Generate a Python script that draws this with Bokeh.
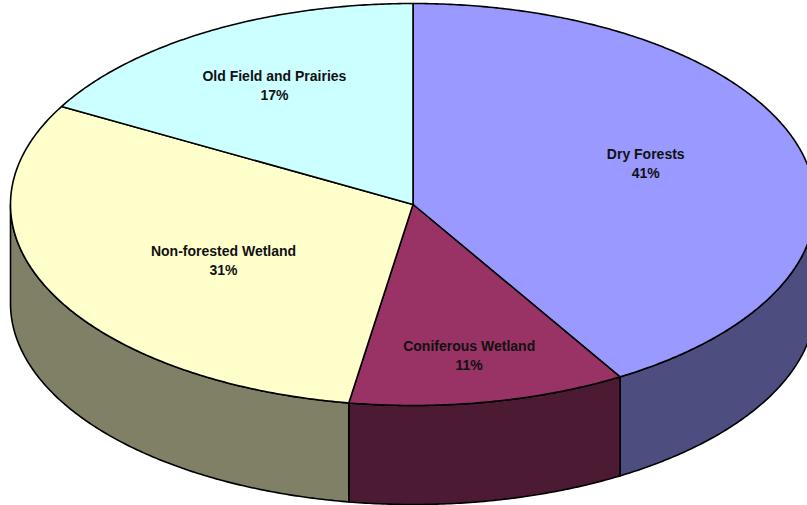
import numpy as np
from bokeh.plotting import figure
from bokeh.core.properties import value
from bokeh.embed import file_html
from bokeh.resources import INLINE

categories = ["Dry Forests", "Coniferous Wetland", "Non-forested Wetland", "Old Field and Prairies"]
shares = [41.4, 11.15, 30.55, 16.9]
top_colors = ["#9999FF", "#993366", "#FFFFCC", "#CCFFFF"]
side_colors = ["#4D4D80", "#4D1A33", "#808066", "#668080"]

# Layout (style) constants, in pixels of the page
W, H = 807, 505
CX, CY, RX, RY, DEPTH = 412.5, 204.0, 402.5, 201.0, 99.0
LABEL_RADII = [(0.60, 0.765), (0.739, 0.765), (0.523, 0.638), (0.68, 0.684)]

p = figure(width=W, height=H, output_backend="svg", toolbar_location=None,
           x_range=(0, W), y_range=(H, 0), x_axis_type="linear", min_border=0,
           margin=(0, 0, 0, 0), outline_line_color=None,
           border_fill_color=None, background_fill_color=None)
p.axis.visible = False
p.grid.visible = False


def px(a):
    return CX + RX * np.sin(a)


def py(a):
    return CY - RY * np.cos(a)


def arc(a0, a1):
    return np.linspace(a0, a1, max(int(abs(a1 - a0) * 120), 2))


edges = np.cumsum([0] + shares) / sum(shares) * 2 * np.pi

# side walls: only the part of each slice on the near half of the rim
for i in range(len(shares)):
    a0, a1 = max(edges[i], np.pi / 2), min(edges[i + 1], 3 * np.pi / 2)
    if a1 <= a0:
        continue
    t = arc(a0, a1)
    xs = np.r_[px(t), px(t[::-1])]
    ys = np.r_[py(t), py(t[::-1]) + DEPTH]
    p.patch(xs, ys, fill_color=side_colors[i], line_color="black",
            line_width=1.6, line_join="round")

# top face
for i in range(len(shares)):
    t = arc(edges[i], edges[i + 1])
    p.patch(np.r_[CX, px(t)], np.r_[CY, py(t)], fill_color=top_colors[i],
            line_color="black", line_width=1.6, line_join="round")

# labels
for i, name in enumerate(categories):
    mid = (edges[i] + edges[i + 1]) / 2
    lx = CX + RX * LABEL_RADII[i][0] * np.sin(mid)
    ly = CY - RY * LABEL_RADII[i][1] * np.cos(mid)
    for txt, off in ((name, -9.5), (f"{round(shares[i])}%", 9.5)):
        p.text([lx], [ly], text=[txt], text_font=value("Liberation Sans"),
               text_font_style="bold", text_font_size="14px", text_color="#111111",
               text_align="center", text_baseline="middle", y_offset=off)

open("out.html", "w").write(file_html(p, INLINE))
